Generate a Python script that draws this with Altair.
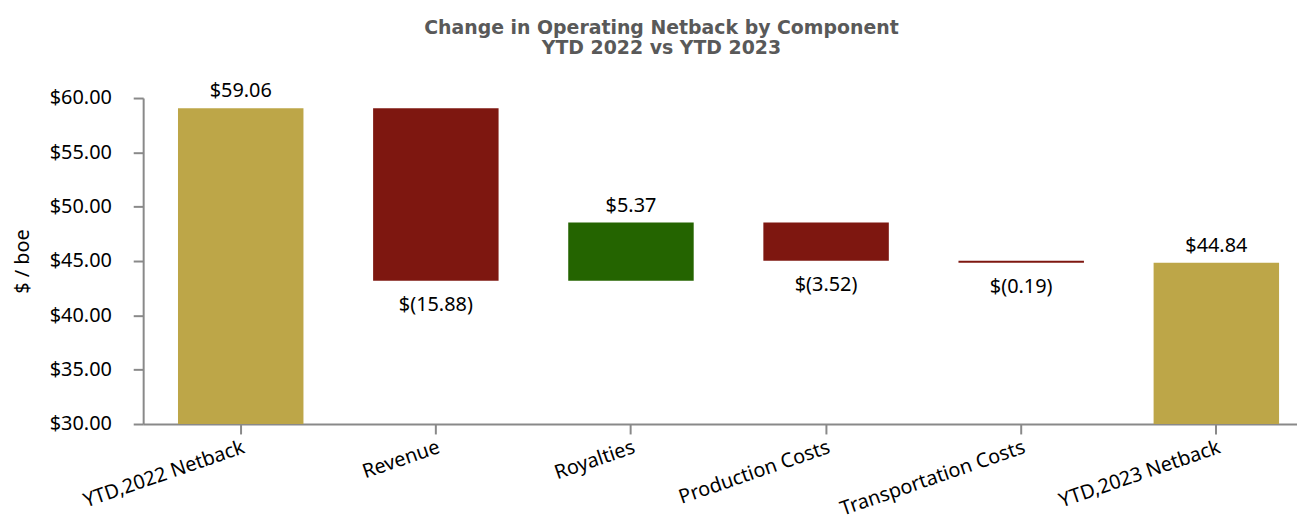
import altair as alt
import pandas as pd

# ---- data ----
categories = ["YTD,2022 Netback", "Revenue", "Royalties", "Production Costs",
              "Transportation Costs", "YTD,2023 Netback"]
amounts = [59.06, -15.88, 5.37, -3.52, -0.19, 44.84]
kinds = ["total", "change", "change", "change", "change", "total"]

y_ticks = [30, 35, 40, 45, 50, 55, 60]

# ---- waterfall table built from the arrays ----
rows = []
running = 0.0
for cat, amt, kind in zip(categories, amounts, kinds):
    if kind == "total":
        start, end = 0.0, amt
        running = amt
        cls = "total"
    else:
        start, end = running, running + amt
        running = end
        cls = "increase" if amt >= 0 else "decrease"
    label = f"${amt:.2f}" if amt >= 0 else f"$({abs(amt):.2f})"
    rows.append({
        "category": cat, "start": start, "end": end,
        "top": max(start, end), "bottom": min(start, end),
        "cls": cls, "label": label,
    })
df = pd.DataFrame(rows)

FONT = "Noto Sans"
TITLE_FONT = "DejaVu Sans"
FS = 20

x = alt.X(
    "category:N", sort=categories, title=None,
    scale=alt.Scale(range=[0, 1178], paddingInner=0.357, paddingOuter=0.1785),
    axis=alt.Axis(
        labelAngle=341, labelAlign="right", labelBaseline="top",
        labelPadding=3, tickSize=10, labelFontSize=FS, labelFont=FONT,
        labelColor="#000000", domainColor="#898989", tickColor="#898989",
        domainWidth=2, tickWidth=2, grid=False, labelLimit=0,
    ),
)
y_scale = alt.Scale(domain=[30, 60], nice=False, zero=False)

bars = alt.Chart(df).mark_bar(clip=True).encode(
    x=x,
    y=alt.Y(
        "start:Q", scale=y_scale, title="$ / boe",
        axis=alt.Axis(
            values=y_ticks, format="$.2f", tickSize=10, labelPadding=22,
            labelFontSize=FS, labelFont=FONT, labelColor="#000000",
            domainColor="#898989", tickColor="#898989", domainWidth=2,
            tickWidth=2, grid=False, titleFontSize=FS, titleFont=FONT,
            titleFontWeight="normal", titleColor="#000000", titleAngle=270,
            titleAlign="center", titleBaseline="middle", titleX=-121,
            titleY=164,
        ),
    ),
    y2="end:Q",
    color=alt.Color(
        "cls:N",
        scale=alt.Scale(domain=["total", "decrease", "increase"],
                        range=["#BDA648", "#7E1710", "#246400"]),
        legend=None,
    ),
)

above = alt.Chart(df).transform_filter(
    alt.datum.cls != "decrease"
).mark_text(font=FONT, fontSize=FS, color="#000000", baseline="alphabetic",
            dy=-11).encode(
    x=alt.X("category:N", sort=categories),
    y=alt.Y("top:Q", scale=y_scale),
    text="label:N",
)

below = alt.Chart(df).transform_filter(
    alt.datum.cls == "decrease"
).mark_text(font=FONT, fontSize=FS, color="#000000", baseline="alphabetic",
            dy=30).encode(
    x=alt.X("category:N", sort=categories),
    y=alt.Y("bottom:Q", scale=y_scale),
    text="label:N",
)

chart = alt.layer(bars, above, below).properties(
    width=1161,
    height=328,
    background="white",
    autosize=alt.AutoSizeParams(type="none"),
    padding={"left": 136, "top": 89, "right": 0, "bottom": 97},
    title=alt.TitleParams(
        ["Change in Operating Netback by Component", "YTD 2022 vs YTD 2023"],
        font=TITLE_FONT, fontSize=19, fontWeight="bold", color="#595959",
        anchor="middle", dx=-59, offset=24, lineHeight=20,
    ),
).configure_view(strokeWidth=0, stroke="transparent")

chart.save("out.html", embed_options={"renderer": "svg", "actions": False})
